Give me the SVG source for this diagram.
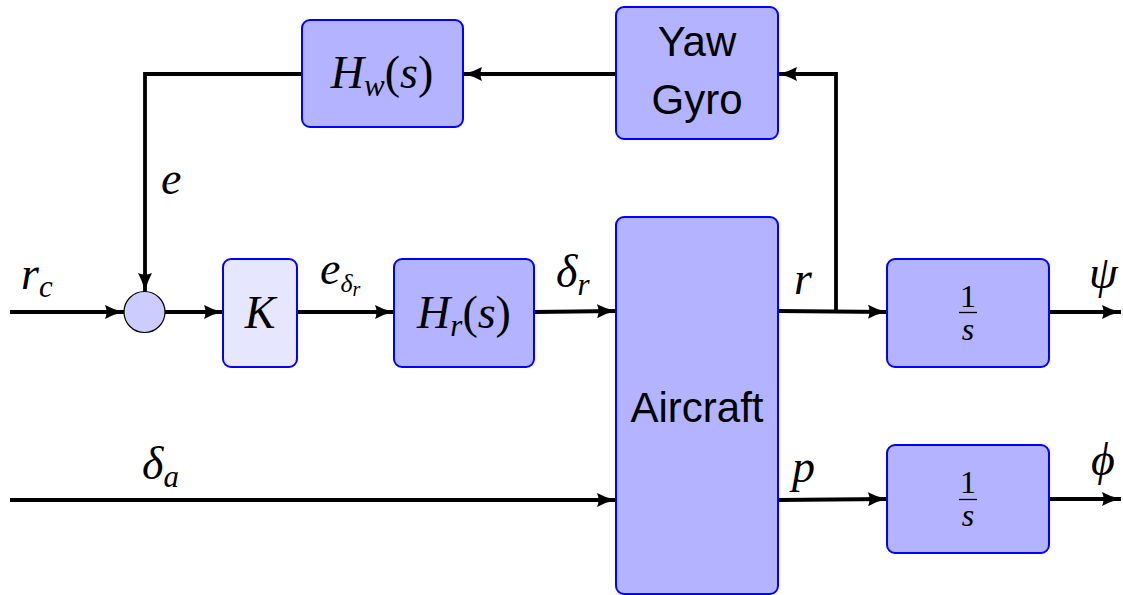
<svg xmlns="http://www.w3.org/2000/svg" width="1123" height="595" viewBox="0 0 1123 595">
<style>
.blk{fill:#b3b3ff;stroke:#0000ff;stroke-width:2}
.blkl{fill:#e6e6ff;stroke:#0000ff;stroke-width:2}
.sum{fill:#ccccff;stroke:#000;stroke-width:1.2}
.wire{fill:none;stroke:#000;stroke-width:3.8;marker-end:url(#ah)}
.m{font-family:"Liberation Serif","DejaVu Serif",serif;font-style:italic;font-size:46px;fill:#000}
.ms{font-family:"Liberation Serif","DejaVu Serif",serif;font-style:italic;font-size:31px;fill:#000}
.mr{font-family:"Liberation Serif","DejaVu Serif",serif;font-size:46px;fill:#000}
.fr{font-family:"Liberation Serif","DejaVu Serif",serif;font-size:32px;fill:#000;text-anchor:middle}
.fri{font-family:"Liberation Serif","DejaVu Serif",serif;font-style:italic;font-size:32px;fill:#000;text-anchor:middle}
.sans{font-family:"Liberation Sans","DejaVu Sans",sans-serif;font-size:42px;fill:#000;text-anchor:middle}
</style>
<defs>
<marker id="ah" markerUnits="userSpaceOnUse" markerWidth="22" markerHeight="16" refX="19" refY="8" orient="auto">
<path d="M0,1 Q9,6 19,8 Q9,10 0,15 Q3,8 0,1 Z" fill="#000"/>
</marker>
</defs>
<g id="connectors">
<path class="wire" d="M10,312 H124"/>
<path class="wire" d="M165,312 H223"/>
<path class="wire" d="M297,312 H394"/>
<path class="wire" d="M534,312 L616,311"/>
<path class="wire" d="M10,500 H616"/>
<path class="wire" d="M778,311 L887,312"/>
<path class="wire" d="M836,311 V74 H778"/>
<path class="wire" d="M616,74 H463"/>
<path class="wire" d="M302,74 H145 V292"/>
<path class="wire" d="M1049,312 H1121"/>
<path class="wire" d="M778,500 L887,499"/>
<path class="wire" d="M1049,499 H1121"/>
</g>
<g id="sum"><circle class="sum" cx="144.5" cy="312" r="20.5"/></g>
<g id="K"><rect class="blkl" x="223" y="259" width="74" height="108" rx="8"/><text class="m" x="260" y="328" text-anchor="middle">K</text></g>
<g id="Hr"><rect class="blk" x="394" y="259" width="140" height="108" rx="8"/><text x="464" y="328" text-anchor="middle"><tspan class="m">H</tspan><tspan class="ms" dy="8">r</tspan><tspan class="mr" dy="-8">(</tspan><tspan class="m">s</tspan><tspan class="mr">)</tspan></text></g>
<g id="Hw"><rect class="blk" x="302" y="20" width="161" height="107" rx="8"/><text x="382" y="88" text-anchor="middle"><tspan class="m">H</tspan><tspan class="ms" dy="8">w</tspan><tspan class="mr" dy="-8">(</tspan><tspan class="m">s</tspan><tspan class="mr">)</tspan></text></g>
<g id="gyro"><rect class="blk" x="616" y="7" width="162" height="132" rx="8"/><text class="sans" x="697" y="56">Yaw</text><text class="sans" x="697" y="114">Gyro</text></g>
<g id="aircraft"><rect class="blk" x="616" y="217" width="162" height="377" rx="8"/><text class="sans" x="697" y="422">Aircraft</text></g>
<g id="int1"><rect class="blk" x="887" y="259" width="162" height="108" rx="8"/><text class="fr" x="968" y="307">1</text><line x1="959" y1="312.5" x2="977" y2="312.5" stroke="#000" stroke-width="1.3"/><text class="fri" x="968" y="340">s</text></g>
<g id="int2"><rect class="blk" x="887" y="445" width="162" height="108" rx="8"/><text class="fr" x="968" y="493">1</text><line x1="959" y1="499.5" x2="977" y2="499.5" stroke="#000" stroke-width="1.3"/><text class="fri" x="968" y="526">s</text></g>
<g id="labels">
<text x="21" y="289"><tspan class="m">r</tspan><tspan class="ms" dy="8">c</tspan></text>
<text class="m" x="161" y="194">e</text>
<text x="320" y="284"><tspan class="m">e</tspan><tspan class="ms" dy="8" style="font-size:26px">δ</tspan><tspan class="ms" dy="4" style="font-size:20px">r</tspan></text>
<text x="556" y="287"><tspan class="m">δ</tspan><tspan class="ms" dy="8">r</tspan></text>
<text class="m" x="794" y="294">r</text>
<text class="m" x="1089" y="288">ψ</text>
<text x="142" y="479"><tspan class="m">δ</tspan><tspan class="ms" dy="8">a</tspan></text>
<text class="m" x="792" y="482">p</text>
<text class="m" x="1091" y="475">ϕ</text>
</g>
</svg>
